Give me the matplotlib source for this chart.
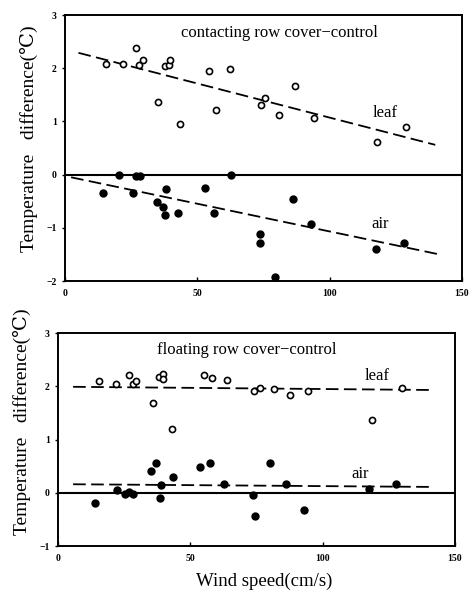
import matplotlib
matplotlib.use("Agg")
import matplotlib.pyplot as plt

plt.rcParams['font.family'] = ['Liberation Serif', 'DejaVu Serif', 'DejaVu Sans']

# ---- data: contacting row cover - control ----
c_leaf_x = [15.4, 21.9, 27.0, 28.1, 29.4, 37.6, 39.2, 39.5, 35.2, 43.3,
            54.4, 57.2, 62.5, 74.2, 75.6, 80.8, 87.0, 94.1, 117.8, 128.7]
c_leaf_y = [2.08, 2.08, 2.39, 2.07, 2.15, 2.04, 2.06, 2.15, 1.37, 0.95,
            1.95, 1.22, 1.98, 1.30, 1.45, 1.13, 1.66, 1.06, 0.62, 0.89]
c_air_x = [14.2, 20.5, 25.6, 26.7, 28.4, 34.8, 37.0, 37.6, 38.0, 42.7,
           52.9, 56.3, 62.7, 73.7, 73.7, 79.2, 86.0, 92.9, 117.5, 128.1]
c_air_y = [-0.34, 0.0, -0.35, -0.02, -0.03, -0.52, -0.60, -0.76, -0.27, -0.73,
           -0.26, -0.73, -0.01, -1.11, -1.29, -1.93, -0.45, -0.92, -1.40, -1.28]
c_leaf_fit_x = [5.1, 139.9]
c_leaf_fit_y = [2.29, 0.56]
c_air_fit_x = [2.3, 142.4]
c_air_fit_y = [-0.05, -1.51]

# ---- data: floating row cover - control ----
f_leaf_x = [15.5, 22.0, 26.8, 28.2, 29.5, 38.3, 39.5, 39.5, 35.9, 43.1,
            55.3, 58.3, 64.0, 74.1, 76.4, 81.5, 87.5, 94.6, 118.8, 130.1]
f_leaf_y = [2.09, 2.05, 2.22, 2.04, 2.10, 2.17, 2.23, 2.13, 1.68, 1.19,
            2.21, 2.15, 2.11, 1.92, 1.96, 1.94, 1.83, 1.91, 1.36, 1.97]
f_air_x = [14.1, 22.3, 25.4, 26.7, 28.2, 35.0, 37.2, 38.4, 39.0, 43.3,
           53.5, 57.3, 62.8, 73.7, 74.6, 80.2, 86.0, 92.9, 117.4, 127.8]
f_air_y = [-0.19, 0.06, -0.03, 0.01, -0.02, 0.41, 0.55, -0.10, 0.14, 0.30,
           0.49, 0.55, 0.17, -0.04, -0.43, 0.55, 0.16, -0.33, 0.08, 0.17]
f_leaf_fit_x = [5.7, 141.9]
f_leaf_fit_y = [1.99, 1.93]
f_air_fit_x = [5.7, 140.8]
f_air_fit_y = [0.16, 0.11]

x_ticks = [0, 50, 100, 150]
top_yticks = [-2, -1, 0, 1, 2, 3]
bot_yticks = [-1, 0, 1, 2, 3]

fig = plt.figure(figsize=(4.69, 5.91), dpi=100)
ax1 = fig.add_axes([0.1386, 0.5245, 0.8465, 0.450])
ax2 = fig.add_axes([0.1237, 0.0761, 0.8465, 0.3604])

def style(ax, yticks, ylim):
    ax.set_xlim(0, 150)
    ax.set_ylim(*ylim)
    ax.set_xticks(x_ticks)
    ax.set_yticks(yticks)
    ax.set_xticklabels([str(t) for t in x_ticks], fontsize=7, fontweight='bold')
    ax.set_yticklabels([str(t).replace('-', '\u2212') for t in yticks], fontsize=7, fontweight='bold')
    ax.tick_params(axis='x', direction='in', length=3, width=1, pad=6)
    ax.tick_params(axis='y', direction='out', length=2, width=1, pad=4)
    for s in ax.spines.values():
        s.set_linewidth(1.4)
    ax.axhline(0, color='black', lw=1.5)

def draw(ax, lx, ly, ax_, ay, lfx, lfy, afx, afy):
    ax.plot(lfx, lfy, color='black', lw=1.3, ls=(0, (7, 3)))
    ax.plot(afx, afy, color='black', lw=1.3, ls=(0, (7, 3)))
    ax.plot(lx, ly, 'o', mfc='white', mec='black', mew=1.2, ms=4.4, ls='none', zorder=5)
    ax.plot(ax_, ay, 'o', mfc='black', mec='black', ms=5.0, ls='none', zorder=5)

style(ax1, top_yticks, (-2, 3))
draw(ax1, c_leaf_x, c_leaf_y, c_air_x, c_air_y, c_leaf_fit_x, c_leaf_fit_y, c_air_fit_x, c_air_fit_y)
ax1.text(81, 2.67, 'contacting row cover\u2212control', fontsize=12, ha='center', va='center')
ax1.text(121, 1.15, 'leaf', fontsize=12, ha='center', va='center')
ax1.text(119, -0.92, 'air', fontsize=12, ha='center', va='center')

style(ax2, bot_yticks, (-1, 3))
draw(ax2, f_leaf_x, f_leaf_y, f_air_x, f_air_y, f_leaf_fit_x, f_leaf_fit_y, f_air_fit_x, f_air_fit_y)
ax2.text(71.4, 2.69, 'floating row cover\u2212control', fontsize=12, ha='center', va='center')
ax2.text(120.5, 2.2, 'leaf', fontsize=12, ha='center', va='center')
ax2.text(114.2, 0.36, 'air', fontsize=12, ha='center', va='center')

ax1.set_ylabel('Temperature   difference(\u2103)', fontsize=14)
ax1.yaxis.set_label_coords(-0.068, 0.534)
ax2.set_ylabel('Temperature   difference(\u2103)', fontsize=14)
ax2.yaxis.set_label_coords(-0.068, 0.582)
ax2.set_xlabel('Wind speed(cm/s)', fontsize=13.5)
ax2.xaxis.label.set_verticalalignment('center')
ax2.xaxis.set_label_coords(0.52, -0.165)

fig.savefig('out.png', dpi=100)
